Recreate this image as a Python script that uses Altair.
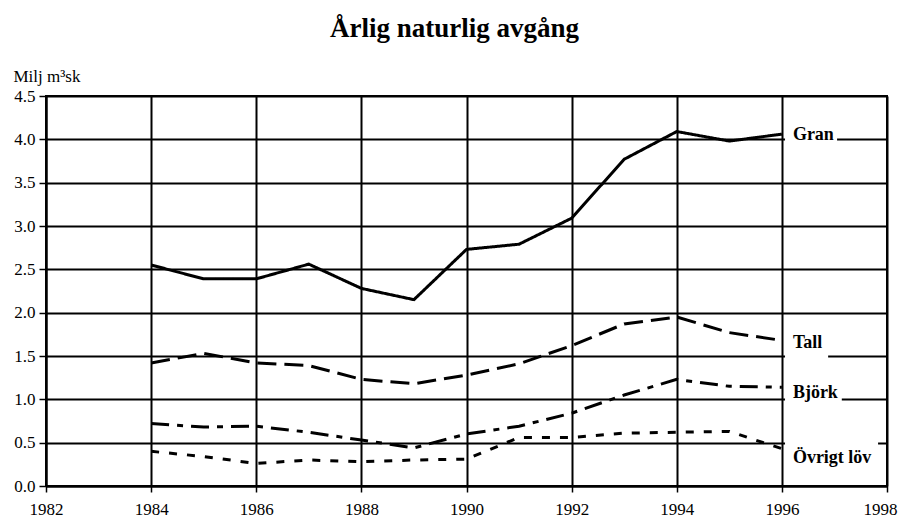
import altair as alt
import pandas as pd

years = list(range(1984, 1997))
gran = [2.55, 2.39, 2.39, 2.56, 2.28, 2.15, 2.73, 2.79, 3.09, 3.77, 4.09, 3.98, 4.06]
tall = [1.42, 1.53, 1.42, 1.39, 1.23, 1.18, 1.28, 1.41, 1.62, 1.87, 1.95, 1.77, 1.68]
bjork = [0.72, 0.68, 0.69, 0.62, 0.53, 0.44, 0.60, 0.69, 0.84, 1.05, 1.23, 1.15, 1.14]
ovrigt = [0.40, 0.34, 0.26, 0.30, 0.28, 0.30, 0.31, 0.56, 0.56, 0.61, 0.62, 0.63, 0.43]

series_names = ["Gran", "Tall", "Björk", "Övrigt löv"]
series_values = [gran, tall, bjork, ovrigt]
dash_patterns = [[1, 0], [19, 8], [18, 8, 6, 8], [8, 10]]

label_y = [4.05, 1.65, 1.07, 0.32]
box_x2 = [1997.05, 1996.88, 1997.14, 1997.83]
box_half = 0.2

x_ticks = list(range(1982, 1999, 2))
y_ticks = [0.0, 0.5, 1.0, 1.5, 2.0, 2.5, 3.0, 3.5, 4.0, 4.5]

rows = []
for name, vals in zip(series_names, series_values):
    for yr, v in zip(years, vals):
        rows.append({"year": yr, "value": v, "series": name})
df = pd.DataFrame(rows)

lab = pd.DataFrame({
    "series": series_names,
    "x": [1996] * 4,
    "x1": [1996.06] * 4,
    "x2": box_x2,
    "y": label_y,
    "y1": [v - box_half for v in label_y],
    "y2": [v + box_half for v in label_y],
})

FONT = "Liberation Serif"

xscale = alt.Scale(domain=[1982, 1998], nice=False, zero=False)
yscale = alt.Scale(domain=[0, 4.5], nice=False)

xaxis = alt.Axis(values=x_ticks, format="d", title=None, labelFont=FONT, labelFontSize=17,
                 labelColor="black", tickColor="black", tickSize=6, tickWidth=1.5,
                 domainColor="black", domainWidth=2, grid=True, gridColor="black",
                 gridWidth=2, gridOpacity=1, labelPadding=9, labelFlush=False,
                 labelAlign={"condition": {"test": "datum.value == 1998", "value": "right"}, "value": "center"},
                 labelOffset={"condition": {"test": "datum.value == 1998", "value": 10}, "value": 0})
yaxis = alt.Axis(values=y_ticks, format=".1f", title="Milj m³sk", labelFont=FONT,
                 labelFontSize=17, labelColor="black", tickColor="black", tickSize=7,
                 tickWidth=1.5, domainColor="black", domainWidth=2, grid=True,
                 gridColor="black", gridWidth=2, gridOpacity=1, labelPadding=4,
                 titleAngle=0, titleX=-33, titleY=-15, titleAlign="left",
                 titleBaseline="alphabetic", titleFont=FONT, titleFontSize=17,
                 titleFontWeight="normal", titleColor="black", labelFlush=False)

boxes = alt.Chart(lab).mark_rect(color="white").encode(
    x=alt.X("x1:Q", scale=xscale, axis=xaxis),
    x2="x2:Q",
    y=alt.Y("y1:Q", scale=yscale, axis=yaxis),
    y2="y2:Q",
)

lines = alt.Chart(df).mark_line(color="black", strokeWidth=3).encode(
    x=alt.X("year:Q", scale=xscale, axis=xaxis),
    y=alt.Y("value:Q", scale=yscale, axis=yaxis),
    strokeDash=alt.StrokeDash("series:N", scale=alt.Scale(domain=series_names, range=dash_patterns), legend=None),
    detail="series:N",
)

texts = alt.Chart(lab).mark_text(align="left", baseline="middle", dx=11, font=FONT,
                                 fontSize=18, fontWeight="bold", color="black").encode(
    x=alt.X("x:Q", scale=xscale),
    y=alt.Y("y:Q", scale=yscale),
    text="series:N",
)

chart = alt.layer(boxes, lines, texts).properties(
    width=841,
    height=390,
    autosize=alt.AutoSizeParams(type="none"),
    padding={"left": 38, "top": 88, "right": 11, "bottom": 33},
    title=alt.TitleParams("Årlig naturlig avgång", font=FONT, fontSize=27, fontWeight="bold",
                          anchor="middle", offset=24, dx=-12, color="black"),
).configure_view(stroke="black", strokeWidth=2)

chart.save("out.html", embed_options={"renderer": "svg", "actions": False})
